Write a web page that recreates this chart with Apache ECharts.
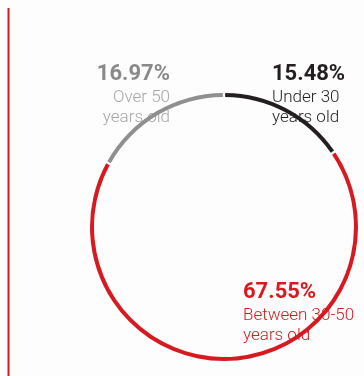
<!DOCTYPE html>
<html>
<head>
<meta charset="utf-8">
<script src="https://cdn.jsdelivr.net/npm/echarts@6/dist/echarts.min.js"></script>
<style>
  html, body { margin: 0; padding: 0; background: #fdfdfd; }
  #chart { width: 364px; height: 376px; }
</style>
</head>
<body>
<div id="chart"></div>
<script>
// age groups, clockwise from 12 o'clock
var groups = ['Under 30\nyears old', 'Between 30-50\nyears old', 'Over 50\nyears old'];
var shares = [15.48, 67.55, 16.97];
var ringColors = ['#231f20', '#d71920', '#8f8f8f'];
var pctColors = ['#231f20', '#d71920', '#8a8a8a'];
var textColors = ['#231f20', '#d71920', '#a6a6a6'];

var chart = echarts.init(document.getElementById('chart'));

var pieData = [];
for (var i = 0; i < groups.length; i++) {
    pieData.push({ value: shares[i], name: groups[i], itemStyle: { color: ringColors[i] } });
}

// label spots: [x, y, align]
var spots = [[272, 63, 'left'], [243, 281, 'left'], [170, 63, 'right']];
var texts = [];
for (var i = 0; i < groups.length; i++) {
    var s = spots[i];
    texts.push({
        type: 'text', left: s[2] == 'left' ? s[0] : null, right: s[2] == 'right' ? 364 - s[0] : null, top: s[1],
        style: {
            text: '{p|' + shares[i].toFixed(2) + '%}\n{n|' + groups[i].split('\n').join('}\n{n|') + '}',
            align: s[2],
            rich: {
                p: { fontFamily: 'Roboto', fontWeight: 'bold', fontSize: 22, lineHeight: 27, fill: pctColors[i], align: s[2] },
                n: { fontFamily: 'Roboto', fontWeight: 300, fontSize: 17, lineHeight: 20, fill: textColors[i], align: s[2] }
            }
        }
    });
}
texts.push({
    type: 'line', shape: { x1: 8.5, y1: 8, x2: 8.5, y2: 376 },
    style: { stroke: '#d71920', lineWidth: 2 }
});

chart.setOption({
    animation: false,
    series: [{
        type: 'pie',
        center: [224, 227],
        radius: [130, 134],
        startAngle: 90,
        clockwise: true,
        padAngle: 1,
        label: { show: false },
        labelLine: { show: false },
        data: pieData
    }],
    graphic: texts
});
</script>
</body>
</html>
